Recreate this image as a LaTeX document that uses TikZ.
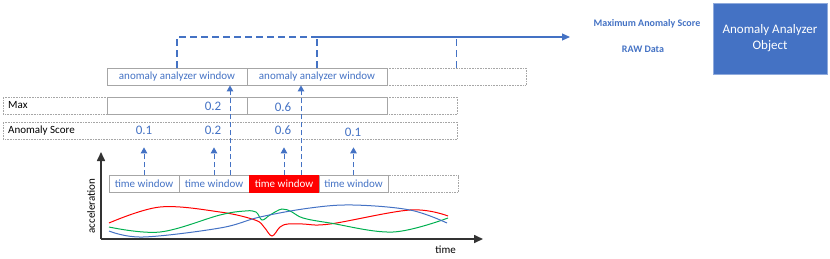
\documentclass[tikz,border=0pt]{standalone}
\usepackage{fontspec}
\setmainfont{Carlito}
\usepackage{tikz}
\usetikzlibrary{arrows.meta,positioning,calc}
\definecolor{anBlue}{HTML}{4472C4}
\definecolor{boxGray}{HTML}{A6A6A6}
\definecolor{sigRed}{HTML}{FF0000}
\definecolor{sigGreen}{HTML}{00B050}

\begin{document}
\begin{tikzpicture}[
    x=1pt, y=-1pt,
    font=\fontsize{11}{13}\selectfont,
    winbox/.style={draw=boxGray, line width=0.8pt, minimum height=17pt, inner sep=0pt, text=anBlue},
    ghost/.style={draw=boxGray, densely dotted, line width=0.6pt, minimum height=17pt, inner sep=0pt},
    score/.style={text=anBlue, font=\fontsize{13}{15}\selectfont, inner sep=0pt},
    up/.style={-{Triangle[length=6pt,width=6.5pt]}, anBlue, line width=1pt, dash pattern=on 5pt off 3pt},
    link/.style={anBlue, line width=1.1pt, dash pattern=on 7pt off 4pt},
    axis/.style={-{Triangle[length=9pt,width=8pt]}, black!80, line width=1.6pt},
    sig/.style={line width=1pt}
  ]
    \useasboundingbox (0,0) rectangle (830,258);

    % analyzer windows
    \node[winbox, minimum width=140pt] (aw1) at (177,76.5) {anomaly analyzer window};
    \node[winbox, minimum width=140pt] (aw2) at (317,76.5) {anomaly analyzer window};
    \node[ghost, minimum width=139pt] (aw3) at (456.5,76.5) {};

    % rows
    \node[ghost, minimum width=454pt, anchor=west] (maxrow) at (3,105.5) {};
    \node[anchor=west, inner sep=0pt] (maxlbl) at ($(maxrow.west)+(5,0)$) {Max};
    \node[winbox, minimum width=140pt] (mx1) at (177,105.5) {};
    \node[winbox, minimum width=140pt] (mx2) at (317,105.5) {};
    \node[ghost, minimum width=454pt, anchor=west] (scorerow) at (3,130.5) {};
    \node[anchor=west, inner sep=0pt] (scorelbl) at ($(scorerow.west)+(5,0)$) {Anomaly Score};

    \node[score] (m1) at (213,106) {0.2};
    \node[score] (m2) at (283,107) {0.6};
    \node[score] (s1) at (144,130) {0.1};
    \node[score] (s2) at (213,130) {0.2};
    \node[score] (s3) at (283,130) {0.6};
    \node[score] (s4) at (353,132) {0.1};

    % time windows
    \node[winbox, minimum width=70pt, minimum height=16.5pt] (tw1) at (144,184) {time window};
    \node[winbox, minimum width=70pt, minimum height=16.5pt] (tw2) at (214,184) {time window};
    \node[winbox, minimum width=70pt, minimum height=16.5pt, fill=sigRed, draw=sigRed, text=white] (tw3) at (284,184) {time window};
    \node[winbox, minimum width=69pt, minimum height=16.5pt] (tw4) at (353.5,184) {time window};
    \node[ghost, minimum width=70pt, minimum height=16.5pt] (tw5) at (423,184) {};

    \foreach \i in {1,...,4}
      \draw[up] (tw\i.north) -- ++(0,-28);
    \draw[up] ($(tw2.north)+(16,0)$) -- ($(aw1.south)+(53,0)$);
    \draw[up] ($(tw3.north)+(17,0)$) -- ($(aw2.south)+(-16,0)$);

    % collected output
    \coordinate (toObj) at (570,37);
    \draw[link] (aw1.north) |- (aw2.north |- toObj);
    \draw[link] (aw2.north) -- (aw2.north |- toObj);
    \draw[link] (aw3.north) -- (aw3.north |- toObj);
    \draw[anBlue, line width=1.1pt, -{Triangle[length=8pt,width=7pt]}] (aw2.north |- toObj) -- (toObj);

    \node[text=anBlue, font=\fontsize{10}{12}\selectfont\bfseries] (maxlabel) at (647,24) {Maximum Anomaly Score};
    \node[text=anBlue, font=\fontsize{10}{12}\selectfont\bfseries] (rawlabel) at (643,49) {RAW Data};
    \node[fill=anBlue, draw=anBlue!60, minimum width=114pt, minimum height=71pt, text=white,
          align=center, font=\fontsize{13}{16}\selectfont] (aao) at (770,38.5)
      {Anomaly Analyzer\\Object};

    % signal plot
    \coordinate (O) at (101,239);
    \draw[axis] (O) -- (101,152);
    \draw[axis] (O) -- (483,239);
    \node[anchor=north east, inner sep=0pt] (tlbl) at (456,246) {time};
    \node[rotate=90, inner sep=0pt] (albl) at (91,206) {acceleration};

    \draw[sig, sigRed] plot[smooth, tension=0.6] coordinates {(109,223) (160,207) (220,212) (255,220) (264,227) (272,236) (280,227) (288,224) (303,224) (330,224) (410,210) (448,216)};
    \draw[sig, sigGreen] plot[smooth, tension=0.6] coordinates {(109,227) (160,232) (220,215) (245,211) (256,212) (262,220) (270,215) (282,209) (292,212) (303,218) (330,223) (393,232) (448,218)};
    \draw[sig, anBlue] plot[smooth, tension=0.6] coordinates {(109,231) (143,237) (220,228) (260,217) (310,208) (353,205) (410,210) (447,223)};

  \end{tikzpicture}
\end{document}
